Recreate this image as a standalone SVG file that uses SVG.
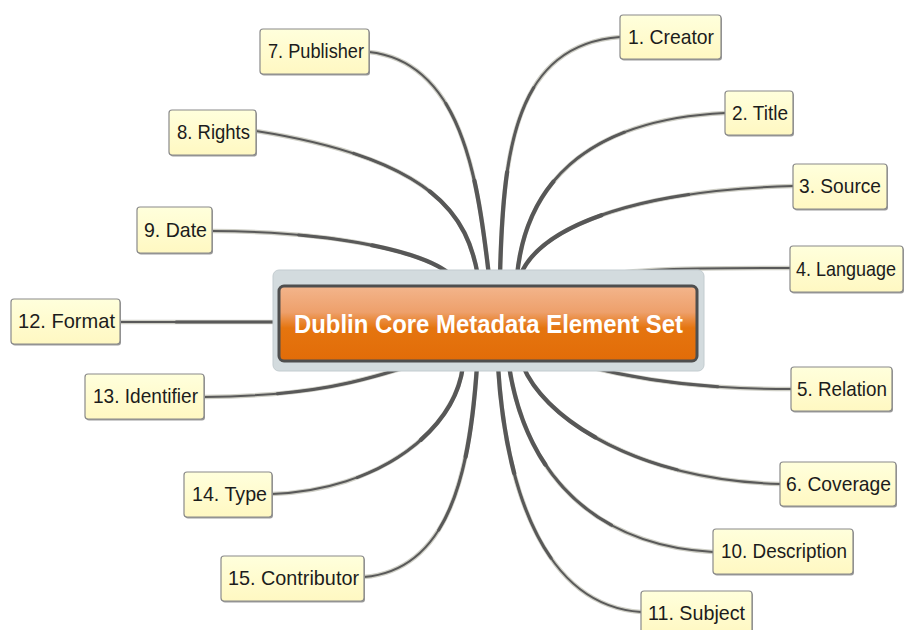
<svg xmlns="http://www.w3.org/2000/svg" xmlns:xlink="http://www.w3.org/1999/xlink" width="909" height="630" viewBox="0 0 909 630">
  <style>
    .halo { fill: none; stroke: #cfcfc6; stroke-width: 4.5; stroke-linecap: round; }
    .core { fill: none; stroke: #595959; stroke-width: 2; stroke-linecap: round; }
    .mid  { fill: none; stroke: #595959; stroke-width: 3; stroke-dasharray: 65 100; stroke-linecap: round; }
    .thick{ fill: none; stroke: #575757; stroke-width: 4.2; stroke-dasharray: 35 100; stroke-linecap: round; }
    .box-shadow { fill: #9c9c9c; }
    .box { fill: url(#boxFill); stroke: #8a8a8a; stroke-width: 1.2; }
    .label { font-family: "Liberation Sans", "DejaVu Sans", sans-serif; font-size: 21px; fill: #1c1c1c; text-anchor: middle; }
    .title { font-family: "Liberation Sans", "DejaVu Sans", sans-serif; font-size: 25px; font-weight: bold; fill: #ffffff; text-anchor: middle; }
  </style>
  <defs>
    <linearGradient id="boxFill" x1="0" y1="0" x2="0" y2="1">
      <stop offset="0" stop-color="#FFFFDC"/>
      <stop offset="1" stop-color="#FFF8C2"/>
    </linearGradient>
    <linearGradient id="orangeFill" x1="0" y1="0" x2="0" y2="1">
      <stop offset="0" stop-color="#F3B58C"/>
      <stop offset="0.35" stop-color="#EEA06B"/>
      <stop offset="0.56" stop-color="#E5750F"/>
      <stop offset="1" stop-color="#E26C08"/>
    </linearGradient>
    <!-- connector geometry, each drawn from the central topic outwards -->
    <path id="p-creator" pathLength="100" d="M500,276 C503,150 515,45 620,37"/>
    <path id="p-title" pathLength="100" d="M517,276 C525,190 580,120 725,113"/>
    <path id="p-source" pathLength="100" d="M520,276 C540,225 640,190 793,186"/>
    <path id="p-language" pathLength="100" d="M610,274 C650,268 710,268 790,268"/>
    <path id="p-relation" pathLength="100" d="M585,366 C640,380 700,389 791,389"/>
    <path id="p-coverage" pathLength="100" d="M523,366 C545,420 640,480 780,484"/>
    <path id="p-publisher" pathLength="100" d="M489,276 C478,180 462,62 369,52"/>
    <path id="p-rights" pathLength="100" d="M478,276 C468,220 440,160 256,131"/>
    <path id="p-date" pathLength="100" d="M452,276 C430,255 350,232 212,231"/>
    <path id="p-description" pathLength="100" d="M509,366 C525,470 590,545 713,552"/>
    <path id="p-subject" pathLength="100" d="M498,366 C505,480 540,605 641,612"/>
    <path id="p-format" pathLength="100" d="M280,322 L120,322"/>
    <path id="p-identifier" pathLength="100" d="M410,366 C370,378 320,396 204,397"/>
    <path id="p-type" pathLength="100" d="M463,366 C455,430 380,490 272,494"/>
    <path id="p-contributor" pathLength="100" d="M477,366 C470,470 450,570 364,577"/>
  </defs>

  <rect width="909" height="630" fill="#ffffff"/>

  <!-- connectors: light halo, thin full line, then thicker inner segments for the taper -->
  <g id="connectors">
    <g id="c-creator"><use href="#p-creator" class="halo"/><use href="#p-creator" class="core"/><use href="#p-creator" class="mid"/><use href="#p-creator" class="thick"/></g>
    <g id="c-title"><use href="#p-title" class="halo"/><use href="#p-title" class="core"/><use href="#p-title" class="mid"/><use href="#p-title" class="thick"/></g>
    <g id="c-source"><use href="#p-source" class="halo"/><use href="#p-source" class="core"/><use href="#p-source" class="mid"/><use href="#p-source" class="thick"/></g>
    <g id="c-language"><use href="#p-language" class="halo"/><use href="#p-language" class="core"/></g>
    <g id="c-relation"><use href="#p-relation" class="halo"/><use href="#p-relation" class="core"/><use href="#p-relation" class="mid"/></g>
    <g id="c-coverage"><use href="#p-coverage" class="halo"/><use href="#p-coverage" class="core"/><use href="#p-coverage" class="mid"/><use href="#p-coverage" class="thick"/></g>
    <g id="c-publisher"><use href="#p-publisher" class="halo"/><use href="#p-publisher" class="core"/><use href="#p-publisher" class="mid"/><use href="#p-publisher" class="thick"/></g>
    <g id="c-rights"><use href="#p-rights" class="halo"/><use href="#p-rights" class="core"/><use href="#p-rights" class="mid"/><use href="#p-rights" class="thick"/></g>
    <g id="c-date"><use href="#p-date" class="halo"/><use href="#p-date" class="core"/><use href="#p-date" class="mid"/><use href="#p-date" class="thick"/></g>
    <g id="c-description"><use href="#p-description" class="halo"/><use href="#p-description" class="core"/><use href="#p-description" class="mid"/><use href="#p-description" class="thick"/></g>
    <g id="c-subject"><use href="#p-subject" class="halo"/><use href="#p-subject" class="core"/><use href="#p-subject" class="mid"/><use href="#p-subject" class="thick"/></g>
    <g id="c-format"><use href="#p-format" class="halo"/><use href="#p-format" class="core"/><use href="#p-format" class="mid"/></g>
    <g id="c-identifier"><use href="#p-identifier" class="halo"/><use href="#p-identifier" class="core"/><use href="#p-identifier" class="mid"/></g>
    <g id="c-type"><use href="#p-type" class="halo"/><use href="#p-type" class="core"/><use href="#p-type" class="mid"/><use href="#p-type" class="thick"/></g>
    <g id="c-contributor"><use href="#p-contributor" class="halo"/><use href="#p-contributor" class="core"/><use href="#p-contributor" class="mid"/><use href="#p-contributor" class="thick"/></g>
  </g>

  <!-- central topic -->
  <g id="central">
    <rect x="273" y="270" width="431" height="101" rx="6" fill="#D3DBDE" stroke="#C3CCD0" stroke-width="1"/>
    <rect x="279" y="286" width="418" height="75" rx="5" fill="url(#orangeFill)" stroke="#4E4E4E" stroke-width="3"/>
    <text class="title" x="488.5" y="333" textLength="389" lengthAdjust="spacingAndGlyphs">Dublin Core Metadata Element Set</text>
  </g>

  <!-- element nodes -->
  <g id="n-creator">
    <rect class="box-shadow" x="621" y="16.5" width="101" height="44" rx="3"/>
    <rect class="box" x="620" y="15" width="101" height="44" rx="3"/>
    <text class="label" x="671" y="44" textLength="86" lengthAdjust="spacingAndGlyphs">1. Creator</text>
  </g>
  <g id="n-title">
    <rect class="box-shadow" x="726" y="92.5" width="68" height="44" rx="3"/>
    <rect class="box" x="725" y="91" width="68" height="44" rx="3"/>
    <text class="label" x="760" y="120" textLength="56" lengthAdjust="spacingAndGlyphs">2. Title</text>
  </g>
  <g id="n-source">
    <rect class="box-shadow" x="794" y="165.5" width="94" height="45" rx="3"/>
    <rect class="box" x="793" y="164" width="94" height="45" rx="3"/>
    <text class="label" x="840" y="193" textLength="82" lengthAdjust="spacingAndGlyphs">3. Source</text>
  </g>
  <g id="n-language">
    <rect class="box-shadow" x="791" y="247.5" width="113" height="46" rx="3"/>
    <rect class="box" x="790" y="246" width="113" height="46" rx="3"/>
    <text class="label" x="846" y="276" font-size="19.5" textLength="100" lengthAdjust="spacingAndGlyphs">4. Language</text>
  </g>
  <g id="n-relation">
    <rect class="box-shadow" x="792" y="368.5" width="101" height="44" rx="3"/>
    <rect class="box" x="791" y="367" width="101" height="44" rx="3"/>
    <text class="label" x="842" y="396" textLength="90" lengthAdjust="spacingAndGlyphs">5. Relation</text>
  </g>
  <g id="n-coverage">
    <rect class="box-shadow" x="781" y="463.5" width="116" height="44" rx="3"/>
    <rect class="box" x="780" y="462" width="116" height="44" rx="3"/>
    <text class="label" x="838.5" y="491" textLength="105" lengthAdjust="spacingAndGlyphs">6. Coverage</text>
  </g>
  <g id="n-publisher">
    <rect class="box-shadow" x="261" y="30.5" width="109" height="45" rx="3"/>
    <rect class="box" x="260" y="29" width="109" height="45" rx="3"/>
    <text class="label" x="316" y="58" textLength="96" lengthAdjust="spacingAndGlyphs">7. Publisher</text>
  </g>
  <g id="n-rights">
    <rect class="box-shadow" x="170" y="111.5" width="87" height="45" rx="3"/>
    <rect class="box" x="169" y="110" width="87" height="45" rx="3"/>
    <text class="label" x="213.5" y="139" textLength="73" lengthAdjust="spacingAndGlyphs">8. Rights</text>
  </g>
  <g id="n-date">
    <rect class="box-shadow" x="138" y="208.5" width="75" height="46" rx="3"/>
    <rect class="box" x="137" y="207" width="75" height="46" rx="3"/>
    <text class="label" x="175.5" y="237" textLength="63" lengthAdjust="spacingAndGlyphs">9. Date</text>
  </g>
  <g id="n-description">
    <rect class="box-shadow" x="714" y="530.5" width="140" height="45" rx="3"/>
    <rect class="box" x="713" y="529" width="140" height="45" rx="3"/>
    <text class="label" x="784" y="558" textLength="126" lengthAdjust="spacingAndGlyphs">10. Description</text>
  </g>
  <g id="n-subject">
    <rect class="box-shadow" x="642" y="592.5" width="111" height="44" rx="3"/>
    <rect class="box" x="641" y="591" width="111" height="44" rx="3"/>
    <text class="label" x="696.5" y="620" textLength="97" lengthAdjust="spacingAndGlyphs">11. Subject</text>
  </g>
  <g id="n-format">
    <rect class="box-shadow" x="12" y="300.5" width="109" height="45" rx="3"/>
    <rect class="box" x="11" y="299" width="109" height="45" rx="3"/>
    <text class="label" x="66.5" y="328" textLength="97" lengthAdjust="spacingAndGlyphs">12. Format</text>
  </g>
  <g id="n-identifier">
    <rect class="box-shadow" x="86" y="375.5" width="119" height="45" rx="3"/>
    <rect class="box" x="85" y="374" width="119" height="45" rx="3"/>
    <text class="label" x="145.5" y="403" textLength="105" lengthAdjust="spacingAndGlyphs">13. Identifier</text>
  </g>
  <g id="n-type">
    <rect class="box-shadow" x="185" y="473.5" width="88" height="45" rx="3"/>
    <rect class="box" x="184" y="472" width="88" height="45" rx="3"/>
    <text class="label" x="229.5" y="501" textLength="75" lengthAdjust="spacingAndGlyphs">14. Type</text>
  </g>
  <g id="n-contributor">
    <rect class="box-shadow" x="222" y="557.5" width="143" height="45" rx="3"/>
    <rect class="box" x="221" y="556" width="143" height="45" rx="3"/>
    <text class="label" x="293.5" y="585" textLength="131" lengthAdjust="spacingAndGlyphs">15. Contributor</text>
  </g>
</svg>
